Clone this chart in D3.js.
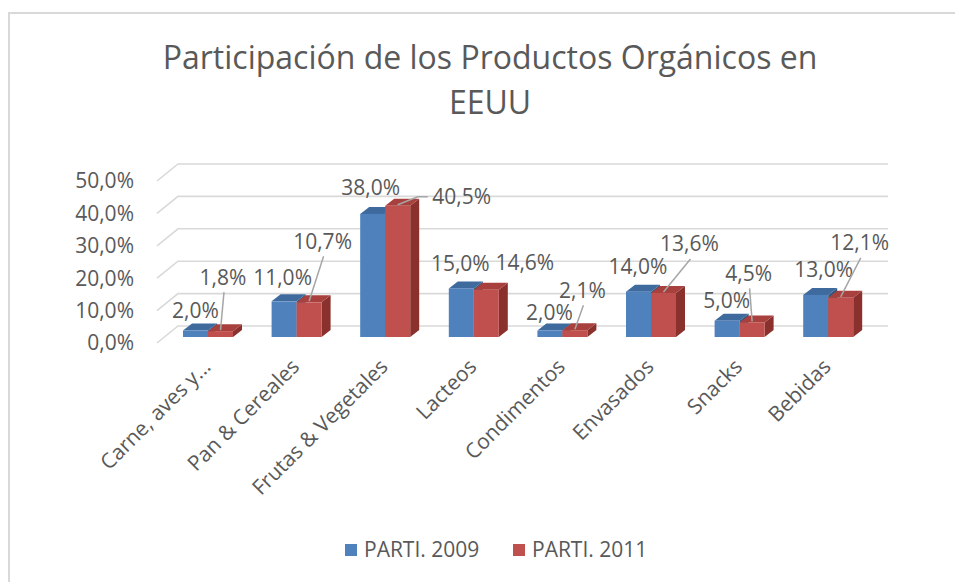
<!DOCTYPE html>
<html>
<head>
<meta charset="utf-8">
<script src="https://cdn.jsdelivr.net/npm/d3@7"></script>
<style>
  body { margin: 0; background: #fff; }
  svg { display: block; }
  text { font-family: "Open Sans", sans-serif; fill: #595959; }
</style>
</head>
<body>
<svg id="chart" width="955" height="582"></svg>
<script>
// Chart data.
var categories = ["Carne, aves y...", "Pan & Cereales", "Frutas & Vegetales", "Lacteos",
                  "Condimentos", "Envasados", "Snacks", "Bebidas"];
var series = ["PARTI. 2009", "PARTI. 2011"];
var values2009 = [0.020, 0.110, 0.380, 0.150, 0.020, 0.140, 0.050, 0.130];
var values2011 = [0.018, 0.107, 0.405, 0.146, 0.021, 0.136, 0.045, 0.121];
var yTicks = [0, 0.1, 0.2, 0.3, 0.4, 0.5];
var title = ["Participación de los Productos Orgánicos en", "EEUU"];

// Layout: where Excel moved each data label, relative to the bar's top (dx, dy).
var labelShift = [
  [[0, -20], [-1.5, -24], [-2, -26], [-1, -25], [-0.5, -17.5], [-0.5, -24.6], [-0.5, -20], [8, -25]],
  [[2.5, -54], [13.5, -61], [64, -9], [38.5, -27], [7.5, -40], [26, -49], [-3.5, -49], [19, -55]]
];
var hasLeader = [
  [0, 0, 0, 0, 0, 0, 0, 0],
  [1, 1, 1, 0, 1, 1, 1, 1]
];

var COLORS = {
  front: ["#4F81BD", "#C0504D"],
  top:   ["#3E6A9E", "#A8413E"],
  side:  ["#34577F", "#8A312E"]
};
var GRID = "#d9d9d9";
var FONT = "21px";

var svg = d3.select("#chart");

// chart border (only top and left edges fall inside the view)
svg.append("rect")
  .attr("x", 9).attr("y", 13)
  .attr("width", 1000).attr("height", 600)
  .attr("fill", "none").attr("stroke", GRID).attr("stroke-width", 2);

// title
svg.append("g").selectAll("text").data(title).join("text")
  .attr("x", 490).attr("y", function (d, i) { return 69 + i * 45; })
  .attr("text-anchor", "middle")
  .style("font-size", "32px")
  .text(function (d) { return d; });

// scales: y maps to the front edge of the floor; back wall is shifted by the depth
var y = d3.scaleLinear().domain([0, 0.5]).range([343, 181]);
var x = d3.scaleBand().domain(categories).range([163.7, 872.5]);
var xs = d3.scaleBand().domain(series).range([0, 50]);
var wallDX = 21, wallDY = -17;     // floor depth
var barDX = 9, barDY = -7;         // bar depth
var barLift = 6;                   // bars stand a bit behind the floor front edge

// gridlines on the back wall with the diagonal floor/side stub
svg.append("g").selectAll("path").data(yTicks).join("path")
  .attr("d", function (t) {
    var yf = y(t);
    return "M157," + yf + "L" + (157 + wallDX) + "," + (yf + wallDY) + "L888," + (yf + wallDY);
  })
  .attr("fill", "none").attr("stroke", GRID).attr("stroke-width", 1.6);

// y tick labels
var fmt = function (v) { return d3.format(".1%")(v).replace(".", ","); };
svg.append("g").selectAll("text").data(yTicks).join("text")
  .attr("x", 134).attr("y", function (t) { return y(t); })
  .attr("dy", "0.35em")
  .attr("text-anchor", "end")
  .style("font-size", FONT)
  .text(fmt);

// bars
var allValues = [values2009, values2011];
var bars = [];
categories.forEach(function (c, i) {
  series.forEach(function (s, k) {
    var v = allValues[k][i];
    var l = x(c) + x.bandwidth() / 2 - xs.bandwidth() + xs(s);
    var w = xs.bandwidth();
    var b = y(0) - barLift;
    var t = y(v) - barLift;
    bars.push({ i: i, k: k, v: v, l: l, w: w, b: b, t: t });
  });
});

var gBars = svg.append("g");
bars.forEach(function (d) {
  var g = gBars.append("g");
  g.append("path")
    .attr("d", "M" + (d.l + d.w) + "," + d.t + "L" + (d.l + d.w + barDX) + "," + (d.t + barDY) +
               "L" + (d.l + d.w + barDX) + "," + (d.b + barDY) + "L" + (d.l + d.w) + "," + d.b + "Z")
    .attr("fill", COLORS.side[d.k]);
  g.append("path")
    .attr("d", "M" + d.l + "," + d.t + "L" + (d.l + d.w) + "," + d.t +
               "L" + (d.l + d.w + barDX) + "," + (d.t + barDY) + "L" + (d.l + barDX) + "," + (d.t + barDY) + "Z")
    .attr("fill", COLORS.top[d.k]);
  g.append("rect")
    .attr("x", d.l).attr("y", d.t)
    .attr("width", d.w).attr("height", d.b - d.t)
    .attr("fill", COLORS.front[d.k]);
});

// data labels with leader lines
var gLabels = svg.append("g");
bars.forEach(function (d) {
  var cx = d.l + d.w / 2, sh = labelShift[d.k][d.i];
  var lx = cx + sh[0], ly = d.t + sh[1];
  if (hasLeader[d.k][d.i]) {
    var pts;
    if (Math.abs(sh[1]) < 20) {
      // label sits to the right: short horizontal tick then down to the bar
      var left = lx - 32;
      pts = [[left - 2, ly], [left - 12, ly], [cx, d.t - 1]];
    } else {
      pts = [[lx + 1, ly + 15], [cx, d.t - 1]];
    }
    gLabels.append("path")
      .attr("d", d3.line()(pts))
      .attr("fill", "none").attr("stroke", "#a6a6a6").attr("stroke-width", 1.5);
  }
  gLabels.append("text")
    .attr("x", lx).attr("y", ly).attr("dy", "0.35em")
    .attr("text-anchor", "middle")
    .style("font-size", FONT)
    .text(fmt(d.v));
});

// category labels, rotated
svg.append("g").selectAll("text").data(categories).join("text")
  .attr("transform", function (c) {
    return "translate(" + (x(c) + x.bandwidth() / 2 + 4) + ",368) rotate(-45)";
  })
  .attr("text-anchor", "end")
  .style("font-size", FONT)
  .text(function (c) { return c; });

// legend
var legend = svg.append("g");
var legendX = [345, 513];
series.forEach(function (s, k) {
  legend.append("rect")
    .attr("x", legendX[k]).attr("y", 544)
    .attr("width", 12).attr("height", 12)
    .attr("fill", COLORS.front[k]);
  legend.append("text")
    .attr("x", legendX[k] + 19).attr("y", 550).attr("dy", "0.35em")
    .style("font-size", FONT)
    .text(s);
});
</script>
</body>
</html>
